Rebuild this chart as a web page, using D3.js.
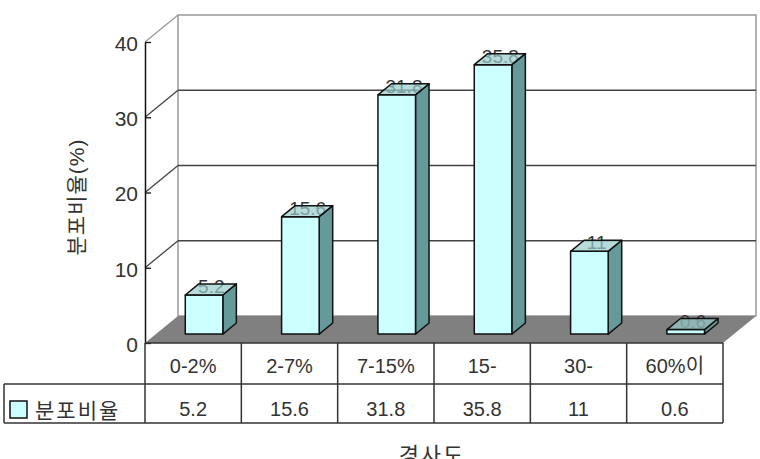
<!DOCTYPE html>
<html><head><meta charset="utf-8">
<script src="https://cdn.jsdelivr.net/npm/d3@7"></script>
<style>body{margin:0;background:#fff}svg{display:block}text{font-family:"Liberation Sans","Noto Sans CJK KR",sans-serif}</style>
</head><body><svg id="c" width="760" height="459"></svg>
<script>
const categories = ["0-2%","2-7%","7-15%","15-","30-","60%이"];
const values = [5.2,15.6,31.8,35.8,11,0.6];
const valueLabels = ["5.2","15.6","31.8","35.8","11","0.6"];
const seriesName = "분포비율";
const yTicks = [0,10,20,30,40];
const yTitle = "분포비율(%)";
const xTitle = "경사도";

const svg = d3.select("#c");
const DX = 33, DY = -27;
const x = d3.scaleBand().domain(categories).range([145,723]);
const y = d3.scaleLinear().domain([0,40]).range([343,42]);
const P = (px,py,z)=>[px+DX*z, py+DY*z];
const poly = pts => pts.map(p=>p.join(",")).join(" ");

// back wall
const xl = x.range()[0], xr = x.range()[1];
svg.append("polygon").attr("points", poly([P(xl,y(40),1),P(xr,y(40),1),P(xr,y(0),1),P(xl,y(0),1)]))
  .attr("fill","#fff").attr("stroke","#999").attr("stroke-width",1.5);
// gridlines back + side diagonals
yTicks.filter(t=>t>0).forEach(t=>{
  const a=P(xl,y(t),1), b=P(xr,y(t),1);
  if(t<40) svg.append("line").attr("x1",a[0]).attr("y1",a[1]).attr("x2",b[0]).attr("y2",b[1]).attr("stroke","#444").attr("stroke-width",1.3);
  const c=P(xl,y(t),0);
  svg.append("line").attr("x1",c[0]).attr("y1",c[1]).attr("x2",a[0]).attr("y2",a[1]).attr("stroke",t==40?"#999":"#444").attr("stroke-width",1.3);
});
// floor
svg.append("polygon").attr("points", poly([P(xl,y(0),0),P(xr,y(0),0),P(xr,y(0),1),P(xl,y(0),1)]))
  .attr("fill","#808080");

// bars
const z0=0.33, z1=0.74, bw=0.39;
categories.forEach((c,i)=>{
  const v=values[i];
  const cx = x(c)+x.bandwidth()/2;
  const x0 = cx - x.bandwidth()*bw/2, x1 = cx + x.bandwidth()*bw/2;
  const yt=y(v), yb=y(0);
  const g=svg.append("g");
  g.append("polygon").attr("points",poly([P(x1,yt,z0),P(x1,yt,z1),P(x1,yb,z1),P(x1,yb,z0)]))
    .attr("fill","#669999").attr("stroke","#111").attr("stroke-width",1.5).attr("stroke-linejoin","round");
  g.append("polygon").attr("points",poly([P(x0,yt,z0),P(x1,yt,z0),P(x1,yb,z0),P(x0,yb,z0)]))
    .attr("fill","#ccffff").attr("stroke","#111").attr("stroke-width",1.5).attr("stroke-linejoin","round");
  const lp=P(cx,yt,0.55);
  g.append("text").attr("x",lp[0]).attr("y",lp[1]+4).attr("text-anchor","middle").attr("font-size",19).attr("fill","#333").text(valueLabels[i]);
  g.append("polygon").attr("points",poly([P(x0,yt,z0),P(x1,yt,z0),P(x1,yt,z1),P(x0,yt,z1)]))
    .attr("fill","#99cccc").attr("fill-opacity",0.7).attr("stroke","#111").attr("stroke-width",1.5).attr("stroke-linejoin","round");
});

// axis
const ax = svg.append("g").attr("transform",`translate(${xl},0)`)
  .call(d3.axisLeft(y).tickValues(yTicks).tickSizeInner(-6).tickSizeOuter(0).tickPadding(7));
ax.select(".domain").attr("stroke","#111").attr("stroke-width",1.5);
ax.selectAll(".tick line").attr("stroke","#111").attr("stroke-width",1.3);
ax.selectAll(".tick text").attr("font-size",21).attr("fill","#333").attr("dy","0.4em").attr("font-family","Liberation Sans, sans-serif");

// table
const tTop=y(0), r1=384, r2=423, tl=4;
const tg=svg.append("g").attr("stroke","#333").attr("stroke-width",1.5);
tg.append("line").attr("x1",xl).attr("x2",xr).attr("y1",tTop).attr("y2",tTop);
tg.append("line").attr("x1",tl).attr("x2",xr).attr("y1",r1).attr("y2",r1);
tg.append("line").attr("x1",tl).attr("x2",xr).attr("y1",r2).attr("y2",r2);
tg.append("line").attr("x1",tl).attr("x2",tl).attr("y1",r1).attr("y2",r2);
categories.forEach(c=>tg.append("line").attr("x1",x(c)).attr("x2",x(c)).attr("y1",tTop).attr("y2",r2));
tg.append("line").attr("x1",xr).attr("x2",xr).attr("y1",tTop).attr("y2",r2);
categories.forEach((c,i)=>{
  const cx=x(c)+x.bandwidth()/2;
  svg.append("text").attr("x",cx).attr("y",373).attr("text-anchor","middle").attr("font-size",20).attr("fill","#333").text(c);
  svg.append("text").attr("x",cx).attr("y",416).attr("text-anchor","middle").attr("font-size",20).attr("fill","#333").text(valueLabels[i]);
});
svg.append("rect").attr("x",10).attr("y",401).attr("width",17).attr("height",17).attr("fill","#ccffff").attr("stroke","#111").attr("stroke-width",1.5);
svg.append("text").attr("x",35).attr("y",418).attr("font-size",21).attr("letter-spacing",2).attr("fill","#333").text(seriesName);

// titles
svg.append("text").attr("transform","translate(84,197) rotate(-90)").attr("text-anchor","middle").attr("font-size",21).attr("letter-spacing",1).attr("fill","#333").text(yTitle);
svg.append("text").attr("x",432).attr("y",463).attr("text-anchor","middle").attr("font-size",22).attr("letter-spacing",2).attr("fill","#333").text(xTitle);
</script></body></html>
